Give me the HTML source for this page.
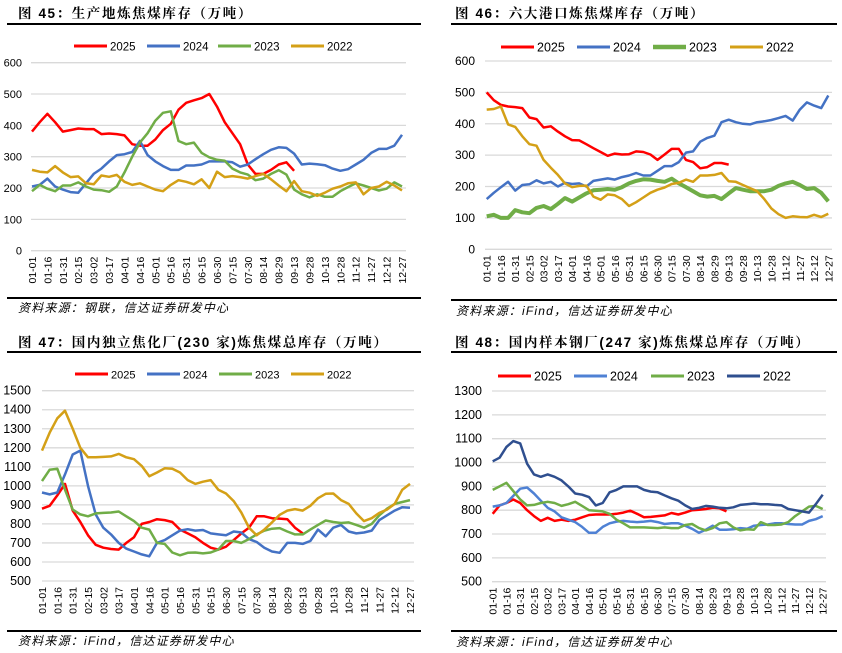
<!DOCTYPE html>
<html><head><meta charset="utf-8">
<style>
html,body{margin:0;padding:0;background:#fff;}
svg{display:block;font-family:"Liberation Sans","Noto Sans CJK SC",sans-serif;}
.ttl{font-family:"Liberation Sans","Noto Serif CJK SC","Noto Sans CJK SC",serif;font-weight:bold;font-size:13.5px;fill:#000;letter-spacing:1.6px;}
.src{font-family:"Liberation Sans","Noto Sans CJK SC",sans-serif;font-style:italic;font-size:12px;fill:#000;letter-spacing:1.2px;}
</style></head><body>
<svg id="chart" width="842" height="653" viewBox="0 0 842 653" xmlns="http://www.w3.org/2000/svg"></svg>
<script>
const categories = ["01-01","01-16","01-31","02-15","03-02","03-17","04-01","04-16","05-01","05-16","05-31","06-15","06-30","07-15","07-30","08-14","08-29","09-13","09-28","10-13","10-28","11-12","11-27","12-12","12-27"];
const seriesNames = ["2025","2024","2023","2022"];

const p1_2025 = [380,410,437,410,380,385,390,388,388,372,374,372,368,340,335,335,355,385,405,450,472,480,487,500,460,410,375,340,275,245,245,258,275,282,255];
const p1_2024 = [205,210,230,205,195,187,185,215,245,262,285,305,308,315,350,305,285,270,258,258,272,272,275,285,285,285,282,268,275,292,308,322,330,328,310,275,278,276,273,262,255,260,275,290,312,325,325,335,370];
const p1_2023 = [190,210,198,190,208,208,218,205,195,193,188,205,250,300,345,375,415,440,445,350,340,345,312,298,290,287,262,250,243,225,230,245,257,243,195,180,170,180,172,172,190,203,215,208,200,192,198,218,205];
const p1_2022 = [258,252,250,270,250,235,237,215,212,240,236,242,220,210,215,205,195,190,210,225,220,212,228,200,252,235,238,235,230,238,245,228,208,190,222,190,185,175,185,198,205,215,218,180,200,205,220,208,192];

const p2_2025 = [500,475,460,455,453,450,420,415,388,392,375,360,348,347,335,322,310,298,305,302,303,312,310,302,285,302,320,320,285,278,258,262,275,275,270];
const p2_2024 = [160,180,198,215,187,205,207,220,210,215,200,212,208,210,200,218,222,226,222,230,235,243,235,235,250,265,265,278,308,312,343,355,362,405,413,405,400,398,405,408,412,418,425,410,445,468,458,450,490];
const p2_2023 = [105,110,100,100,125,118,115,132,138,128,145,163,152,165,178,188,190,192,190,198,210,218,223,222,218,215,225,210,198,185,172,168,170,160,178,195,190,185,185,185,190,202,210,215,205,192,195,180,153];
const p2_2022 = [445,447,455,398,390,360,335,330,285,260,237,210,198,202,203,168,158,175,172,160,138,150,165,180,190,197,208,212,222,215,235,235,237,243,217,215,205,195,185,160,130,112,100,105,103,102,110,103,113];

const p3_2025 = [880,895,950,1010,870,810,740,690,675,668,665,700,730,800,810,825,820,810,770,750,730,700,675,665,680,715,750,780,840,840,830,828,825,780,750];
const p3_2024 = [965,955,965,1060,1165,1185,1000,850,780,745,700,670,655,640,630,700,715,740,765,772,765,768,750,745,740,760,755,720,705,675,655,648,700,700,695,710,770,735,780,795,760,750,755,765,820,845,870,888,885];
const p3_2023 = [1025,1085,1090,980,875,850,840,855,858,860,865,840,815,780,770,700,695,650,635,648,650,645,650,665,710,710,700,720,745,765,775,778,760,745,745,770,795,818,810,805,808,795,780,800,845,880,905,915,925];
const p3_2022 = [1185,1280,1355,1395,1300,1200,1150,1150,1152,1155,1168,1150,1140,1105,1050,1070,1092,1090,1070,1030,1010,1022,1030,980,960,920,860,780,740,770,808,848,870,878,870,895,935,958,960,925,905,855,815,830,858,875,905,980,1010];

const p4_2025 = [785,820,830,845,830,800,775,755,768,755,760,755,760,770,780,782,782,782,785,790,798,785,770,772,775,778,788,782,790,800,802,805,810,808,795];
const p4_2024 = [815,820,830,860,890,895,870,840,810,795,770,760,750,730,705,705,730,745,752,755,752,750,752,755,750,742,745,745,735,722,705,718,735,718,718,720,725,722,735,738,740,745,745,742,740,740,755,762,775];
const p4_2023 = [885,900,915,880,845,820,822,830,835,830,818,825,835,818,800,798,795,785,760,745,728,728,728,726,725,728,725,725,738,742,725,715,725,745,750,728,715,720,718,750,738,738,740,750,775,795,815,818,805];
const p4_2022 = [1005,1020,1065,1090,1080,995,950,940,950,940,925,900,870,865,855,820,830,875,885,900,900,900,885,878,875,862,850,840,820,805,810,818,815,810,808,812,822,825,828,825,825,822,820,805,800,795,790,825,865];

const p1Ticks = ["0","100","200","300","400","500","600"];
const p2Ticks = ["0","100","200","300","400","500","600"];
const p3Ticks = ["500","600","700","800","900","1000","1100","1200","1300","1400","1500"];
const p4Ticks = ["500","600","700","800","900","1000","1100","1200","1300"];

const svg = document.getElementById('chart');
const NS = 'http://www.w3.org/2000/svg';
function mk(tag, attrs, parent){
  const e = document.createElementNS(NS, tag);
  for (const k in attrs) e.setAttribute(k, attrs[k]);
  (parent||svg).appendChild(e);
  return e;
}

const panels = [
  {id:'p1', title:'图 45：生产地炼焦煤库存（万吨）', src:'资料来源：钢联，信达证券研发中心',
   data:[p1_2025,p1_2024,p1_2023,p1_2022], colors:['#ff0000','#4472c4','#70ad47','#d4a017'], widths:[2.5,2.5,2.5,2.5],
   ticks:p1Ticks, x0:32, x1:402, gl:31, gr:406, yTop:62.7, yBot:250.7, tickX:22, tickFs:11,
   legY:46, legX:[74,147,218,291], legFs:11.5, titleX:18, titleY:18, ruleY:24, ruleL:7, ruleR:421, botY:298, srcY:312, srcX:18},
  {id:'p2', title:'图 46：六大港口炼焦煤库存（万吨）', src:'资料来源：iFind，信达证券研发中心',
   data:[p2_2025,p2_2024,p2_2023,p2_2022], colors:['#ff0000','#4472c4','#70ad47','#d4a017'], widths:[2.5,2.5,4,2.5],
   ticks:p2Ticks, x0:486.7, x1:828.3, gl:485, gr:832, yTop:61, yBot:249.3, tickX:475, tickFs:12,
   legY:47, legX:[501,577,653,730], legFs:12.5, titleX:455, titleY:18, ruleY:24, ruleL:451, ruleR:837, botY:300, srcY:315, srcX:456},
  {id:'p3', title:'图 47：国内独立焦化厂(230 家)炼焦煤总库存（万吨）', src:'资料来源：iFind，信达证券研发中心',
   data:[p3_2025,p3_2024,p3_2023,p3_2022], colors:['#ff0000','#4472c4','#70ad47','#d4a017'], widths:[2.5,2.5,2.5,2.5],
   ticks:p3Ticks, x0:42, x1:410, gl:42, gr:414, yTop:390.7, yBot:581, tickX:31, tickFs:12.5,
   legY:374, legX:[75,147,219,291], legFs:11, titleX:18, titleY:347, ruleY:352, ruleL:7, ruleR:421, botY:631, srcY:645, srcX:18},
  {id:'p4', title:'图 48：国内样本钢厂(247 家)炼焦煤总库存（万吨）', src:'资料来源：iFind，信达证券研发中心',
   data:[p4_2025,p4_2024,p4_2023,p4_2022], colors:['#ff0000','#4f81d4','#70ad47','#2f4f8f'], widths:[2.5,2.5,2.5,2.5],
   ticks:p4Ticks, x0:492.7, x1:822.7, gl:492, gr:826, yTop:391, yBot:581.7, tickX:482, tickFs:12.5,
   legY:376, legX:[498,574,651,727], legFs:12.5, titleX:455, titleY:347, ruleY:352, ruleL:451, ruleR:837, botY:631, srcY:646, srcX:456}
];

panels.forEach(function(p){
  const g = mk('g', {});
  
  
  const t = mk('text', {x:p.titleX, y:p.titleY, class:'ttl'}, g);
  t.textContent = p.title;
  
  
  const r1 = mk('line', {x1:p.ruleL, x2:p.ruleR, y1:p.ruleY, y2:p.ruleY, stroke:'#000', 'stroke-width':2}, g);
  
  
  const r2 = mk('line', {x1:p.ruleL, x2:p.ruleR, y1:p.botY, y2:p.botY, stroke:'#000', 'stroke-width':2}, g);
  
  
  const s = mk('text', {x:p.srcX, y:p.srcY, class:'src'}, g);
  s.textContent = p.src;
  
  

  const vmin = parseFloat(p.ticks[0]), vmax = parseFloat(p.ticks[p.ticks.length-1]);
  const yScale = function(v){ return p.yBot - (v - vmin) / (vmax - vmin) * (p.yBot - p.yTop); };
  const nPts = p.data[1].length;
  const xScale = function(i){ return p.x0 + i * (p.x1 - p.x0) / (nPts - 1); };

  p.ticks.forEach(function(tk){
    const v = parseFloat(tk), y = yScale(v);
    const gl = mk('line', {x1:p.gl, x2:p.gr, y1:y, y2:y, stroke:'#d9d9d9', 'stroke-width':1.3}, g);
    
    
    const tl = mk('text', {x:p.tickX, y:y+4, 'text-anchor':'end', 'font-size':p.tickFs, fill:'#000'}, g);
    tl.textContent = tk;
    
    
  });

  categories.forEach(function(c, k){
    const x = xScale(k * (nPts - 1) / (categories.length - 1));
    const y = p.yBot + 6;
    const cl = mk('text', {x:x+4, y:y, 'text-anchor':'end', 'font-size':10.5, fill:'#000', transform:'rotate(-90 ' + (x+4) + ' ' + y + ')'}, g);
    cl.textContent = c;
    
    
  });

  p.data.forEach(function(arr, si){
    const pts = arr.map(function(v, i){ return xScale(i).toFixed(1) + ',' + yScale(v).toFixed(1); }).join(' ');
    const pl = mk('polyline', {points:pts, fill:'none', stroke:p.colors[si], 'stroke-width':p.widths[si], 'stroke-linejoin':'round'}, g);
    
    

    const lx = p.legX[si];
    const ll = mk('line', {x1:lx, x2:lx+33, y1:p.legY, y2:p.legY, stroke:p.colors[si], 'stroke-width':p.widths[si]+0.5}, g);
    
    
    const lt = mk('text', {x:lx+36, y:p.legY+4.5, 'font-size':p.legFs, fill:'#000'}, g);
    lt.textContent = seriesNames[si];
    
    
  });
});
</script>
</body></html>
